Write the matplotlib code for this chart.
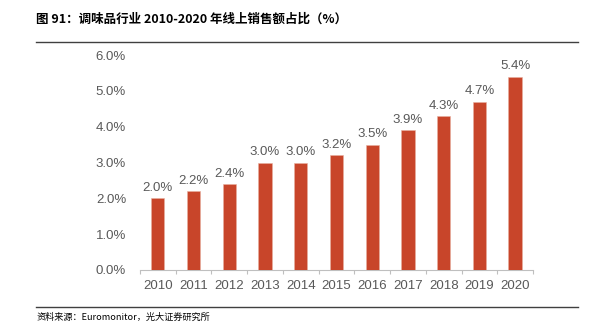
import matplotlib.pyplot as plt
from matplotlib.lines import Line2D
from matplotlib.ticker import FuncFormatter, FixedLocator
import numpy as np

plt.rcParams['font.family'] = ['Liberation Sans', 'Noto Sans CJK SC', 'DejaVu Sans']

years = ['2010', '2011', '2012', '2013', '2014', '2015', '2016', '2017', '2018', '2019', '2020']
share = [2.0, 2.2, 2.4, 3.0, 3.0, 3.2, 3.5, 3.9, 4.3, 4.7, 5.4]

bar_color = '#C8452A'
text_color = '#595959'

fig = plt.figure(figsize=(6.14, 3.31), dpi=100)
ax = fig.add_axes([0.228, 0.1843, 0.640, 0.6495])

x = np.arange(len(years))
ax.bar(x, share, width=0.37, color=bar_color, edgecolor='#E8B0A0', linewidth=0.4, zorder=3)

for xi, v in zip(x, share):
    ax.text(xi, v + 0.12, f'{v:.1f}%', ha='center', va='bottom', fontsize=9.5, color=text_color)

ax.set_xlim(-0.5, len(years) - 0.5)
ax.set_ylim(0, 6)
ax.set_yticks(np.arange(0, 6.1, 1))
ax.yaxis.set_major_formatter(FuncFormatter(lambda v, p: f'{v:.1f}%'))
ax.set_xticks(x)
ax.set_xticklabels(years)
ax.xaxis.set_minor_locator(FixedLocator(np.arange(-0.5, len(years), 1)))

for s in ['top', 'right', 'left']:
    ax.spines[s].set_visible(False)
ax.spines['bottom'].set_color('#BFBFBF')
ax.spines['bottom'].set_linewidth(0.8)

ax.tick_params(axis='y', length=0, labelsize=9.5, labelcolor=text_color, pad=10)
ax.tick_params(axis='x', which='major', length=0, labelsize=9.5, labelcolor=text_color, pad=7)
ax.tick_params(axis='x', which='minor', length=3, color='#BFBFBF', width=0.8)

# title and source lines
fig.text(0.059, 0.942, '图 91：调味品行业 2010-2020 年线上销售额占比（%）', fontsize=9,
         fontweight='bold', color='black', va='center',
         family=['Noto Sans CJK SC', 'DejaVu Sans'])
fig.add_artist(Line2D([0.059, 0.941], [0.873, 0.873], color='#404040', linewidth=1.0))
fig.add_artist(Line2D([0.059, 0.941], [0.073, 0.073], color='#404040', linewidth=1.0))
fig.text(0.059, 0.042, '资料来源：Euromonitor，光大证券研究所', fontsize=6.6, color='black',
         va='center', family=['Noto Sans CJK SC', 'DejaVu Sans'])

fig.savefig('out.png', dpi=100)
